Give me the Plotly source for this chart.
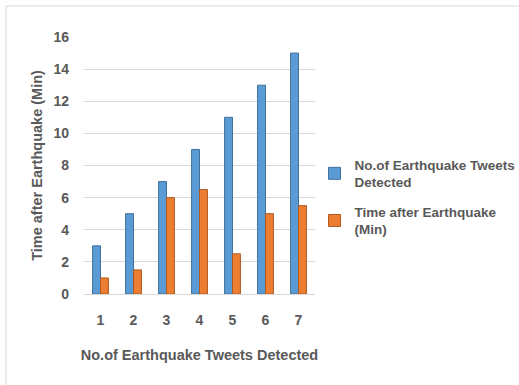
import plotly.graph_objects as go

# Data
categories = ["1", "2", "3", "4", "5", "6", "7"]
tweets_detected = [3, 5, 7, 9, 11, 13, 15]
time_after_quake = [1, 1.5, 6, 6.5, 2.5, 5, 5.5]
y_ticks = [0, 2, 4, 6, 8, 10, 12, 14, 16]

FONT = "Liberation Sans, Arial, sans-serif"
TEXT = "#595959"

fig = go.Figure()
fig.add_trace(go.Bar(
    x=categories, y=tweets_detected,
    name="No.of Earthquake Tweets<br>Detected", legendgroup="tweets",
    marker=dict(color="#5B9BD5", line=dict(color="#41719C", width=1)),
))
fig.add_trace(go.Bar(
    x=categories, y=time_after_quake,
    name="Time after Earthquake<br>(Min)", legendgroup="time",
    marker=dict(color="#ED7D31", line=dict(color="#AE5A21", width=1)),
))

# light frame around the chart area
fig.add_shape(type="line", xref="paper", yref="paper",
              x0=-0.338, x1=1.95, y0=1.121, y1=1.121,
              line=dict(color="#d9d9d9", width=1))
fig.add_shape(type="line", xref="paper", yref="paper",
              x0=-0.338, x1=-0.338, y0=1.121, y1=-0.45,
              line=dict(color="#d9d9d9", width=1))

fig.update_layout(
    width=519, height=385,
    margin=dict(l=84, r=204, t=37, b=91, autoexpand=False),
    paper_bgcolor="white", plot_bgcolor="white",
    barmode="group", bargap=0.52, bargroupgap=0,
    font=dict(family=FONT, color=TEXT, size=14, weight="bold"),
    showlegend=True,
    legend=dict(
        x=0.998, y=0.563, xanchor="left", yanchor="top",
        font=dict(family=FONT, size=13.5, color=TEXT, weight="bold"),
        itemwidth=30, bgcolor="rgba(0,0,0,0)",
        traceorder="grouped", tracegroupgap=9,
    ),
    xaxis=dict(
        title=dict(text="No.of Earthquake Tweets Detected",
                   font=dict(size=14.5, color=TEXT, weight="bold"), standoff=22),
        tickfont=dict(size=14, color=TEXT, weight="bold"),
        ticklabelstandoff=16,
        showline=False, showgrid=False,
    ),
    yaxis=dict(
        title=dict(text="Time after Earthquake (Min)",
                   font=dict(size=14.5, color=TEXT, weight="bold"), standoff=7),
        range=[0, 16], tickvals=y_ticks,
        tickfont=dict(size=14, color=TEXT, weight="bold"),
        ticklabelstandoff=14,
        showgrid=True, gridcolor="#d9d9d9", gridwidth=1,
        zeroline=True, zerolinecolor="#d9d9d9", zerolinewidth=1,
        showline=False,
    ),
)

fig.write_html("out.html")
